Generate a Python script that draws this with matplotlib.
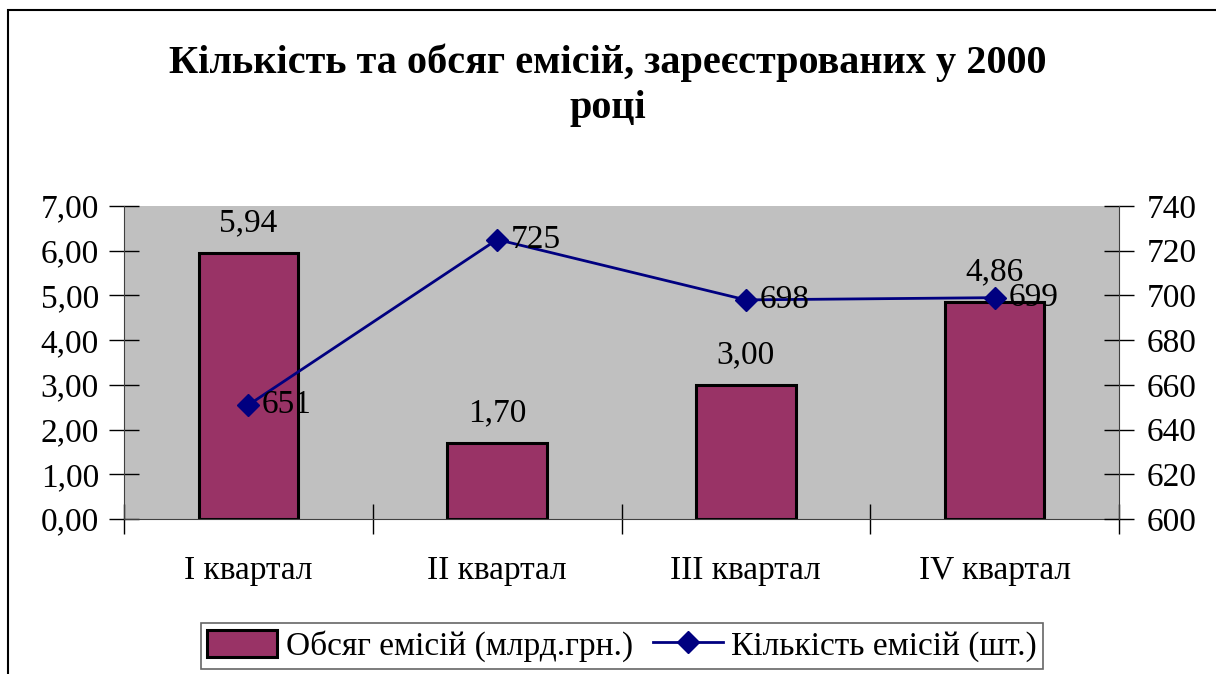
import matplotlib.pyplot as plt
import numpy as np
from matplotlib.lines import Line2D
from matplotlib.patches import Patch, Rectangle

plt.rcParams['font.family'] = ['Liberation Serif', 'DejaVu Serif']

# data
quarters = ["I квартал", "II квартал", "III квартал", "IV квартал"]
volume = [5.94, 1.70, 3.00, 4.86]        # млрд.грн.
count = [651, 725, 698, 699]             # шт.
left_ticks = [0, 1, 2, 3, 4, 5, 6, 7]
right_ticks = [600, 620, 640, 660, 680, 700, 720, 740]

BAR = '#993366'
LINE = '#000080'
BG = '#C0C0C0'
FS = 24

fig = plt.figure(figsize=(12.16, 6.74), dpi=100)
ax = fig.add_axes([124 / 1216, 155 / 674, 995 / 1216, 313 / 674])
ax.set_facecolor(BG)

x = np.arange(len(quarters))
ax.bar(x, volume, width=0.4, color=BAR, edgecolor='black', linewidth=2.2, zorder=2)
ax.set_xlim(-0.5, len(quarters) - 0.5)
ax.set_ylim(0, 7)
ax.set_yticks(left_ticks)
ax.set_yticklabels([f"{v:.2f}".replace('.', ',') for v in left_ticks], fontsize=FS)
for xi, v in zip(x, volume):
    ax.text(xi, v + 0.33, f"{v:.2f}".replace('.', ','), ha='center', va='bottom', fontsize=FS)

# categories sit between the tick marks
ax.set_xticks(np.arange(len(quarters) + 1) - 0.5)
ax.set_xticklabels([])
ax.set_xticks(x, minor=True)
ax.set_xticklabels(quarters, minor=True, fontsize=FS)
ax.tick_params(axis='x', which='major', direction='inout', length=22, width=1)
ax.tick_params(axis='x', which='minor', length=0, pad=26)
ax.tick_params(axis='y', direction='inout', length=22, width=1, pad=7)

for s in ['top', 'right']:
    ax.spines[s].set_visible(False)
ax.spines['left'].set_color('#404040')
ax.spines['bottom'].set_color('#404040')

ax2 = ax.twinx()
ax2.plot(x, count, color=LINE, linewidth=2, marker='D', markersize=11, zorder=3)
ax2.set_ylim(600, 740)
ax2.set_yticks(right_ticks)
ax2.set_yticklabels([str(v) for v in right_ticks], fontsize=FS)
ax2.tick_params(axis='y', direction='inout', length=22, width=1, pad=9)
for xi, v in zip(x, count):
    ax2.text(xi + 0.055, v, str(v), ha='left', va='center', fontsize=FS, zorder=4)
for s in ['top', 'left', 'bottom']:
    ax2.spines[s].set_visible(False)
ax2.spines['right'].set_color('#404040')

fig.text(0.5, 1 - 85 / 674, "Кількість та обсяг емісій, зареєстрованих у 2000\nроці",
         ha='center', va='center', fontsize=29, fontweight='bold', linespacing=1.3)

handles = [Patch(facecolor=BAR, edgecolor='black', linewidth=2.2),
           Line2D([], [], color=LINE, linewidth=2, marker='D', markersize=11)]
leg = fig.legend(handles, ["Обсяг емісій (млрд.грн.)", "Кількість емісій (шт.)"],
                 loc='center', bbox_to_anchor=(622 / 1216, 1 - 646 / 674), ncol=2,
                 fontsize=FS, frameon=True, fancybox=False, edgecolor='#404040',
                 handlelength=2.1, handleheight=0.9, handletextpad=0.25, columnspacing=0.6,
                 borderpad=0.2, borderaxespad=0)
leg.get_frame().set_linewidth(1.2)

# outer chart border (only left and top fall inside the image)
fig.add_artist(Rectangle((8 / 1216, -0.1), 1.2, 1 - 10 / 674 + 0.1, transform=fig.transFigure,
                         fill=False, edgecolor='black', linewidth=1.5))

fig.savefig('out.png', dpi=100)
